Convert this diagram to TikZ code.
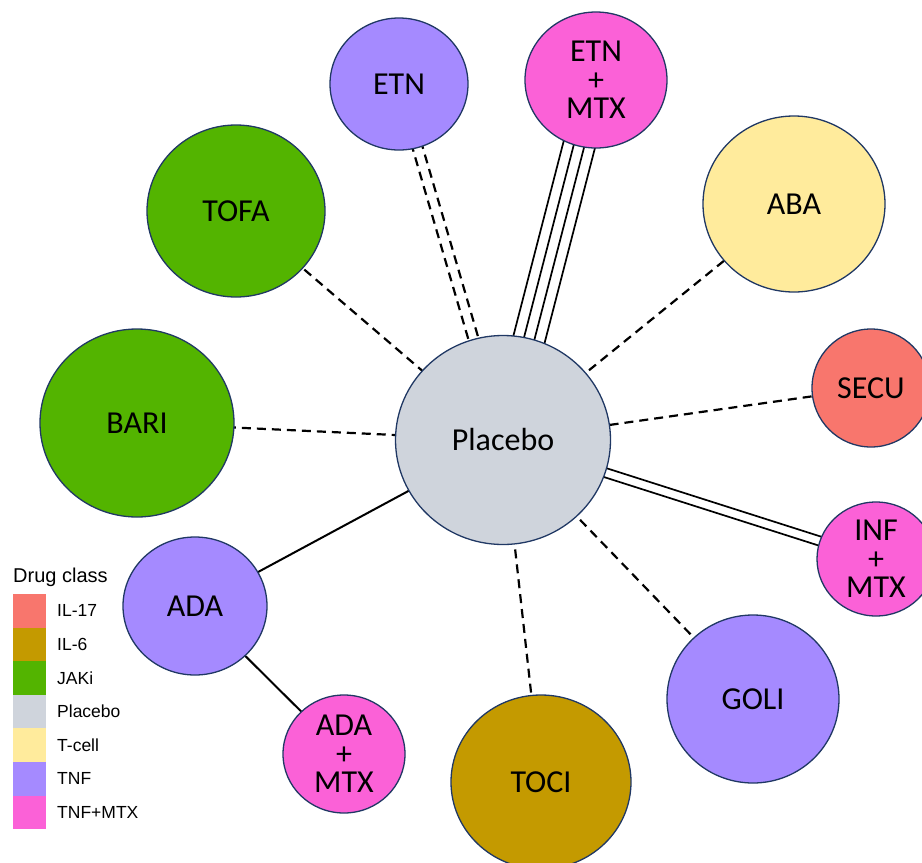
\documentclass[tikz,border=0pt]{standalone}
\usepackage{fontspec}
\setmainfont{Carlito}
\newfontfamily\legfont{Liberation Sans}
\usetikzlibrary{shapes.geometric,calc,backgrounds}
\definecolor{cIL17}{HTML}{F8766D}
\definecolor{cIL6}{HTML}{C49A00}
\definecolor{cJAK}{HTML}{53B400}
\definecolor{cPla}{HTML}{CFD4DC}
\definecolor{cTcell}{HTML}{FFEB9C}
\definecolor{cTNF}{HTML}{A58AFF}
\definecolor{cTNFM}{HTML}{FB61D7}
\definecolor{cBorder}{HTML}{203864}
\tikzset{
  drug/.style={ellipse, draw=cBorder, line width=1.3pt, inner sep=0pt, align=center,
    font=\fontsize{32}{28.5}\selectfont},
  dr/.style n args={3}{drug, fill=#1, minimum width=#2, minimum height=#3},
  dashedge/.style={draw=black, line width=2.2pt, dash pattern=on 9pt off 6pt},
  solidedge/.style={draw=black, line width=2pt},
  multiedge/.style={draw=black, line width=1.7pt},
  swatch/.style={rectangle, minimum width=33pt, minimum height=33.7pt, inner sep=0pt, draw=none},
  leglabel/.style={anchor=west, inner sep=0pt, font=\legfont\fontsize{17.5}{20}\selectfont},
  legtitle/.style={anchor=base west, inner sep=0pt, font=\legfont\fontsize{20}{22}\selectfont}
}
\begin{document}
\begin{tikzpicture}[x=1pt, y=-1pt]
\useasboundingbox (0,0) rectangle (922,863);
% nodes
\node[dr={cPla}{215pt}{209pt}] (pla) at (503,440) {Placebo};
\node[dr={cTNF}{138pt}{132pt}] (etn) at (399,84) {ETN};
\node[dr={cTNFM}{142pt}{136pt}] (etnm) at (596,80) {ETN\\+\\MTX};
\node[dr={cJAK}{178pt}{172pt}] (tofa) at (236,211) {TOFA};
\node[dr={cJAK}{194pt}{188pt}] (bari) at (137,423) {BARI};
\node[dr={cTcell}{182pt}{176pt}] (aba) at (794,204) {ABA};
\node[dr={cIL17}{118pt}{118pt}] (secu) at (871,388) {SECU};
\node[dr={cTNFM}{118pt}{114pt}] (infm) at (876,559) {INF\\+\\MTX};
\node[dr={cTNF}{172pt}{168pt}] (goli) at (753,699) {GOLI};
\node[dr={cIL6}{180pt}{174pt}] (toci) at (541,782) {TOCI};
\node[dr={cTNF}{144pt}{138pt}] (ada) at (195,606) {ADA};
\node[dr={cTNFM}{122pt}{118pt}] (adam) at (344,754) {ADA\\+\\MTX};
% edges
\begin{scope}[on background layer]
\draw[dashedge] (tofa.center) -- (pla.center);
\draw[dashedge] (bari.center) -- (pla.center);
\draw[dashedge] (aba.center) -- (pla.center);
\draw[dashedge] (secu.center) -- (pla.center);
\draw[dashedge] (goli.center) -- (pla.center);
\draw[dashedge] (toci.center) -- (pla.center);
\draw[solidedge] (ada.center) -- (pla.center);
\draw[solidedge] (ada.center) -- (adam.center);
\foreach \o in {-5pt,5pt}
  \draw[dashedge] ($(etn.center)!\o!90:(pla.center)$) -- ($(pla.center)!\o!-90:(etn.center)$);
\foreach \o in {-16pt,-5.3pt,5.3pt,16pt}
  \draw[multiedge] ($(etnm.center)!\o!90:(pla.center)$) -- ($(pla.center)!\o!-90:(etnm.center)$);
\foreach \o in {-4.6pt,4.6pt}
  \draw[multiedge] ($(infm.center)!\o!90:(pla.center)$) -- ($(pla.center)!\o!-90:(infm.center)$);
\end{scope}
% legend
\node[legtitle] (legt) at (13,582) {Drug class};
\foreach \c/\t [count=\i] in {cIL17/IL-17, cIL6/IL-6, cJAK/JAKi, cPla/Placebo, cTcell/T-cell, cTNF/TNF, cTNFM/TNF+MTX}{
  \node[swatch, fill=\c] (sw\i) at (29.5,{594+33.6*(\i-0.5)}) {};
  \node[leglabel] (lb\i) at (57,{594+33.6*(\i-0.5)}) {\t};
}
\end{tikzpicture}
\end{document}
